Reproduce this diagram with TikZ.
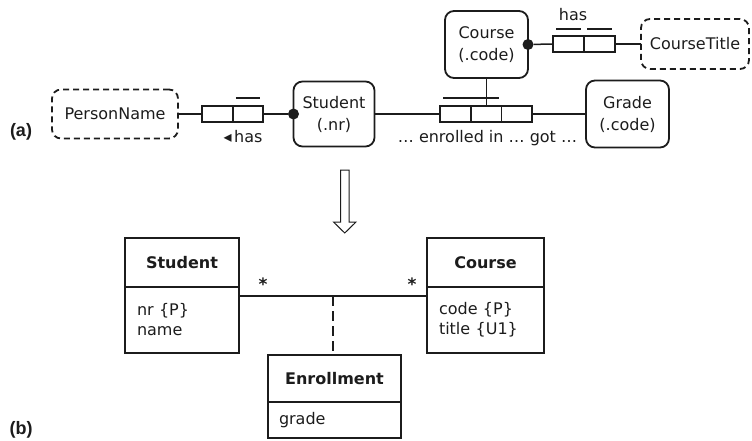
\documentclass[tikz,border=0pt]{standalone}
\usepackage{fontspec}
\setmainfont{DejaVu Sans}
\newfontfamily\lblfont{Liberation Sans}
\usetikzlibrary{positioning,calc}
\definecolor{ink}{HTML}{1C1C1C}
\tikzset{
  objbox/.style={draw=ink,rounded corners=9pt,line width=1.8pt,align=center,inner sep=0pt,outer sep=0pt,font=\fontsize{16}{22}\selectfont,text=ink},
  valbox/.style={objbox,dash pattern=on 6pt off 4pt},
  rolebox/.style={draw=ink,line width=1.8pt,minimum width=30.5pt,minimum height=16pt,inner sep=0pt,outer sep=0pt},
  ubar/.style={draw=ink,line width=1.8pt},
  conn/.style={draw=ink,line width=1.5pt},
  dot/.style={circle,fill=ink,inner sep=0pt,minimum size=11pt},
  plain/.style={font=\fontsize{16}{20}\selectfont,text=ink,inner sep=0pt},
  partlbl/.style={font=\lblfont\bfseries\fontsize{18}{20}\selectfont,text=ink,inner sep=0pt},
  clshead/.style={draw=ink,line width=1.8pt,font=\bfseries\fontsize{16}{20}\selectfont,text=ink,inner sep=0pt,outer sep=0pt},
  clsbody/.style={draw=ink,line width=1.8pt,font=\fontsize{16}{20}\selectfont,text=ink,align=left,inner ysep=0pt,inner xsep=12pt,outer sep=0pt},
  mult/.style={font=\bfseries\fontsize{17}{20}\selectfont,text=ink,inner sep=0pt},
  hollow/.style={draw=ink,line width=1pt,fill=white}
}
\begin{document}
\begin{tikzpicture}[x=1pt,y=-1pt]
\useasboundingbox (0,0) rectangle (752,440);
% (a) fact types
\node[partlbl] (lbla) at (21,132) {(a)};
\node[valbox,minimum width=126pt,minimum height=49pt] (pname) at (115,114) {PersonName};
\node[rolebox] (hr1) at (217.5,114) {};
\node[rolebox,right=0pt of hr1] (hr2) {};
\node[objbox,minimum width=81pt,minimum height=65pt] (stud) at (334,114) {Student\\(.nr)};
\node[dot] (sdot) at (stud.west) {};
\draw[conn] (pname.east) -- (hr1.west);
\draw[conn] (hr2.east) -- (sdot);
\draw[ubar] ([xshift=3pt,yshift=8pt]hr2.north west) -- ([xshift=-3pt,yshift=8pt]hr2.north east);
\node[plain] (hlbl) at (243,137) {◂\,has};

\node[objbox,minimum width=83pt,minimum height=67pt] (crs) at (486.5,44.5) {Course\\(.code)};
\node[dot] (cdot) at (crs.east) {};
\node[rolebox,minimum width=31pt] (tr1) at (568.5,44) {};
\node[rolebox,minimum width=31pt,right=0pt of tr1] (tr2) {};
\node[valbox,minimum width=108pt,minimum height=50pt] (ctitle) at (695,44) {CourseTitle};
\draw[conn] (cdot) -- (tr1.west);
\draw[conn] (tr2.east) -- (ctitle.west);
\draw[ubar] ([xshift=3pt,yshift=7pt]tr1.north west) -- ([xshift=-3pt,yshift=7pt]tr1.north east);
\draw[ubar] ([xshift=3pt,yshift=7pt]tr2.north west) -- ([xshift=-3pt,yshift=7pt]tr2.north east);
\node[plain] (tlbl) at (573,15) {has};

\node[rolebox,minimum width=31pt] (e1) at (455.5,114) {};
\node[rolebox,right=0pt of e1] (e2) {};
\node[rolebox,right=0pt of e2] (e3) {};
\node[objbox,minimum width=83pt,minimum height=67pt] (grade) at (627.5,114) {Grade\\(.code)};
\draw[conn] (stud.east) -- (e1.west);
\draw[conn] (e3.east) -- (grade.west);
\draw[conn] (crs.south) -- (crs.south |- e2.north);
\draw[ubar] ([xshift=3pt,yshift=8pt]e1.north west) -- ([xshift=-3pt,yshift=8pt]e2.north east);
\node[plain] (elbl) at (487.5,138) {\ldots{} enrolled in \ldots{} got \ldots};

% mapping arrow
\draw[hollow] (340.5,170) -- (349,170) -- (349,222) -- (356,222) -- (344.75,233)
  -- (333.5,222) -- (340.5,222) -- cycle;

% (b) UML classes
\node[partlbl] (lblb) at (21,430) {(b)};
\node[clshead,minimum width=114pt,minimum height=49pt] (stuhead) at (182,262.5) {Student};
\node[clsbody,text width=90pt,minimum height=66pt,below=0pt of stuhead] (stubody) {nr \{P\}\\name};
\node[clshead,minimum width=117pt,minimum height=49pt] (crshead) at (485.5,262.5) {Course};
\node[clsbody,text width=93pt,minimum height=66pt,below=0pt of crshead] (crsbody) {code \{P\}\\title \{U1\}};
\node[clshead,minimum width=133pt,minimum height=47pt] (enrhead) at (334.5,378.5) {Enrollment};
\node[clsbody,inner xsep=11pt,text width=111pt,minimum height=36pt,below=0pt of enrhead] (enrbody) {grade};
\draw[conn] ([yshift=-9pt]stubody.north east) -- coordinate (amid) ([yshift=-9pt]crsbody.north west);
\draw[conn,dash pattern=on 10pt off 5pt] (amid) -- (amid |- enrhead.north);
\node[mult] (m1) at (263,284) {*};
\node[mult] (m2) at (412,284) {*};
\end{tikzpicture}
\end{document}
